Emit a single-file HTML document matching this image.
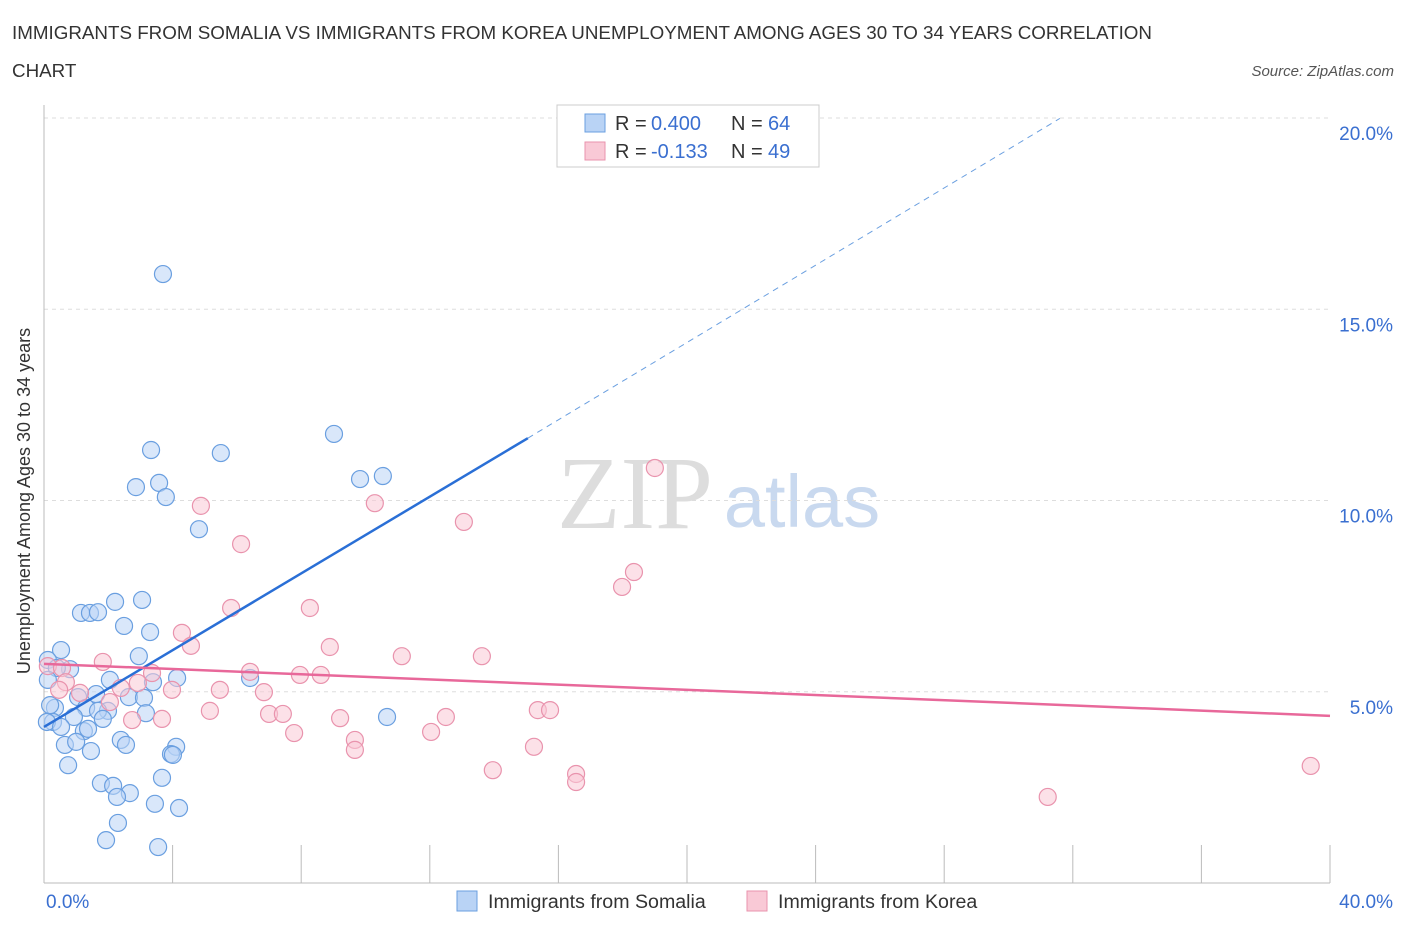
<!DOCTYPE html>
<html><head><meta charset="utf-8"><style>
body{margin:0;background:#fff;font-family:"Liberation Sans",sans-serif;}
</style></head><body>
<svg width="1406" height="930" xmlns="http://www.w3.org/2000/svg" id="chart">
<text x="12" y="39" font-size="18.8" fill="#333">IMMIGRANTS FROM SOMALIA VS IMMIGRANTS FROM KOREA UNEMPLOYMENT AMONG AGES 30 TO 34 YEARS CORRELATION</text>
<text x="12" y="77" font-size="18.8" fill="#333">CHART</text>
<text x="1394" y="76" font-size="15" fill="#555" font-style="italic" text-anchor="end">Source: ZipAtlas.com</text>
<g>
<text x="635" y="528" font-size="104" fill="#ddd" font-family="Liberation Serif" text-anchor="middle">ZIP</text>
<text x="802" y="527" font-size="74" fill="#c9d9ef" text-anchor="middle">atlas</text>
</g>
<g id="grid"></g><g id="axes"></g><g id="pts"></g><g id="trends"></g>
<text x="24" y="495" font-size="18" fill="#333" transform="rotate(-90 30 495)" text-anchor="middle">Unemployment Among Ages 30 to 34 years</text>
<g>
<rect x="557" y="105" width="262" height="62" fill="#fff" stroke="#ccc"/>
<rect x="585" y="114" width="20" height="18" fill="#b9d3f5" stroke="#6a9fe0"/>
<text x="615" y="130" font-size="20" fill="#333">R =</text>
<text x="651" y="130" font-size="20" fill="#3a6fd0">0.400</text>
<text x="731" y="130" font-size="20" fill="#333">N =</text>
<text x="768" y="130" font-size="20" fill="#3a6fd0">64</text>
<rect x="585" y="142" width="20" height="18" fill="#f9c9d6" stroke="#e993ad"/>
<text x="615" y="158" font-size="20" fill="#333">R =</text>
<text x="651" y="158" font-size="20" fill="#3a6fd0">-0.133</text>
<text x="731" y="158" font-size="20" fill="#333">N =</text>
<text x="768" y="158" font-size="20" fill="#3a6fd0">49</text>
</g>
<g>
<rect x="457" y="891" width="20" height="20" fill="#b9d3f5" stroke="#6a9fe0"/>
<text x="488" y="908" font-size="19.6" fill="#333">Immigrants from Somalia</text>
<rect x="747" y="891" width="20" height="20" fill="#f9c9d6" stroke="#e993ad"/>
<text x="778" y="908" font-size="19.6" fill="#333">Immigrants from Korea</text>
</g>
</svg>
<script>
const yTicks=[5,10,15,20];
const yTickLabels=["5.0%","10.0%","15.0%","20.0%"];
const xTickLabels=["0.0%","40.0%"];
const somaliaX=[3.70,3.33,5.50,9.02,2.86,3.58,3.79,9.83,10.54,4.82,1.15,1.43,1.68,2.21,3.05,2.49,3.30,0.53,2.95,0.12,0.81,0.40,2.05,4.14,3.39,6.41,1.62,1.06,2.64,3.11,0.34,1.31,1.99,1.68,3.17,0.93,1.83,0.28,0.09,0.53,1.24,1.37,10.67,2.39,2.55,0.65,1.00,4.11,1.46,3.95,4.01,0.75,3.67,1.77,2.15,2.67,2.27,3.45,4.20,2.30,1.93,3.55,0.19,0.12];
const somaliaY=[15.92,11.32,11.24,11.74,10.35,10.46,10.09,10.56,10.64,9.25,7.06,7.06,7.08,7.35,7.40,6.72,6.56,6.09,5.93,5.83,5.59,5.62,5.31,5.36,5.25,5.36,4.94,4.86,4.86,4.84,4.58,4.58,4.50,4.50,4.44,4.34,4.29,4.21,4.21,4.08,3.97,4.03,4.34,3.74,3.61,3.61,3.69,3.56,3.45,3.37,3.35,3.08,2.75,2.61,2.54,2.35,2.25,2.07,1.96,1.57,1.12,0.94,4.65,5.31];
const koreaX=[19.00,10.29,4.88,13.06,6.13,18.35,17.98,5.82,8.27,4.29,8.89,4.57,1.83,11.13,13.62,0.12,0.56,6.41,7.96,8.61,3.36,0.68,2.92,2.39,3.98,5.47,6.84,1.12,0.47,2.05,5.16,7.00,7.43,15.36,15.74,2.74,3.67,9.21,12.50,7.78,12.04,9.67,9.67,15.24,13.96,16.55,16.55,31.22,39.40];
const koreaY=[10.85,9.93,9.86,9.44,8.86,8.13,7.74,7.19,7.19,6.54,6.17,6.20,5.78,5.93,5.93,5.67,5.62,5.52,5.44,5.44,5.49,5.25,5.23,5.10,5.05,5.05,4.99,4.97,5.05,4.73,4.50,4.42,4.42,4.52,4.52,4.26,4.29,4.31,4.34,3.92,3.95,3.74,3.48,3.56,2.95,2.85,2.64,2.25,3.06];
const somaliaTrend=[0,4.08,15.05,11.63,31.6,19.99];
const koreaTrend=[0,5.73,40,4.37];
const NS="http://www.w3.org/2000/svg";
const sx=v=>44+v/40*1286, sy=v=>883-v*38.25;
function mk(t,a,p){const e=document.createElementNS(NS,t);for(const k in a)e.setAttribute(k,a[k]);document.getElementById(p).appendChild(e);return e;}
yTicks.forEach((t,i)=>{
 const g=mk('line',{x1:44,x2:1330,y1:sy(t),y2:sy(t),stroke:'#ddd','stroke-dasharray':'4,4'},'grid');
 
 
 const l=mk('text',{x:1393,y:sy(t)+22,'font-size':19,fill:'#3a6fd0','text-anchor':'end'},'grid');
 l.textContent=yTickLabels[i];
 
 
});
const ax=mk('line',{x1:44,x2:1330,y1:883,y2:883,stroke:'#bbb'},'axes');


const ay=mk('line',{x1:44,x2:44,y1:105,y2:883,stroke:'#bbb'},'axes');


for(let i=0;i<=10;i++){const t=mk('line',{x1:sx(i*4),x2:sx(i*4),y1:845,y2:883,stroke:'#bbb'},'axes');
 
 }
[[0,'start',46],[40,'end',1393]].forEach((d,i)=>{const t=mk('text',{x:d[2],y:908,'font-size':19,fill:'#3a6fd0','text-anchor':d[1]},'axes');t.textContent=xTickLabels[i];
 
 });
function pts(X,Y,f,s,n){X.forEach((x,i)=>{const c=mk('circle',{cx:sx(x),cy:sy(Y[i]),r:8.5,fill:f,'fill-opacity':0.55,stroke:s,'stroke-width':1.2},'pts');
 
 });}
pts(somaliaX,somaliaY,'#b9d3f5','#6a9fe0','somalia-point');
pts(koreaX,koreaY,'#f9c9d6','#e993ad','korea-point');
const b=somaliaTrend;
let l1=mk('line',{x1:sx(b[0]),y1:sy(b[1]),x2:sx(b[2]),y2:sy(b[3]),stroke:'#2a6fd6','stroke-width':2.5},'trends');


let l2=mk('line',{x1:sx(b[2]),y1:sy(b[3]),x2:sx(b[4]),y2:sy(b[5]),stroke:'#6a9fe0','stroke-width':1,'stroke-dasharray':'6,5'},'trends');


const k=koreaTrend;
let l3=mk('line',{x1:sx(k[0]),y1:sy(k[1]),x2:sx(k[2]),y2:sy(k[3]),stroke:'#e8689a','stroke-width':2.5},'trends');


</script>
</body></html>
